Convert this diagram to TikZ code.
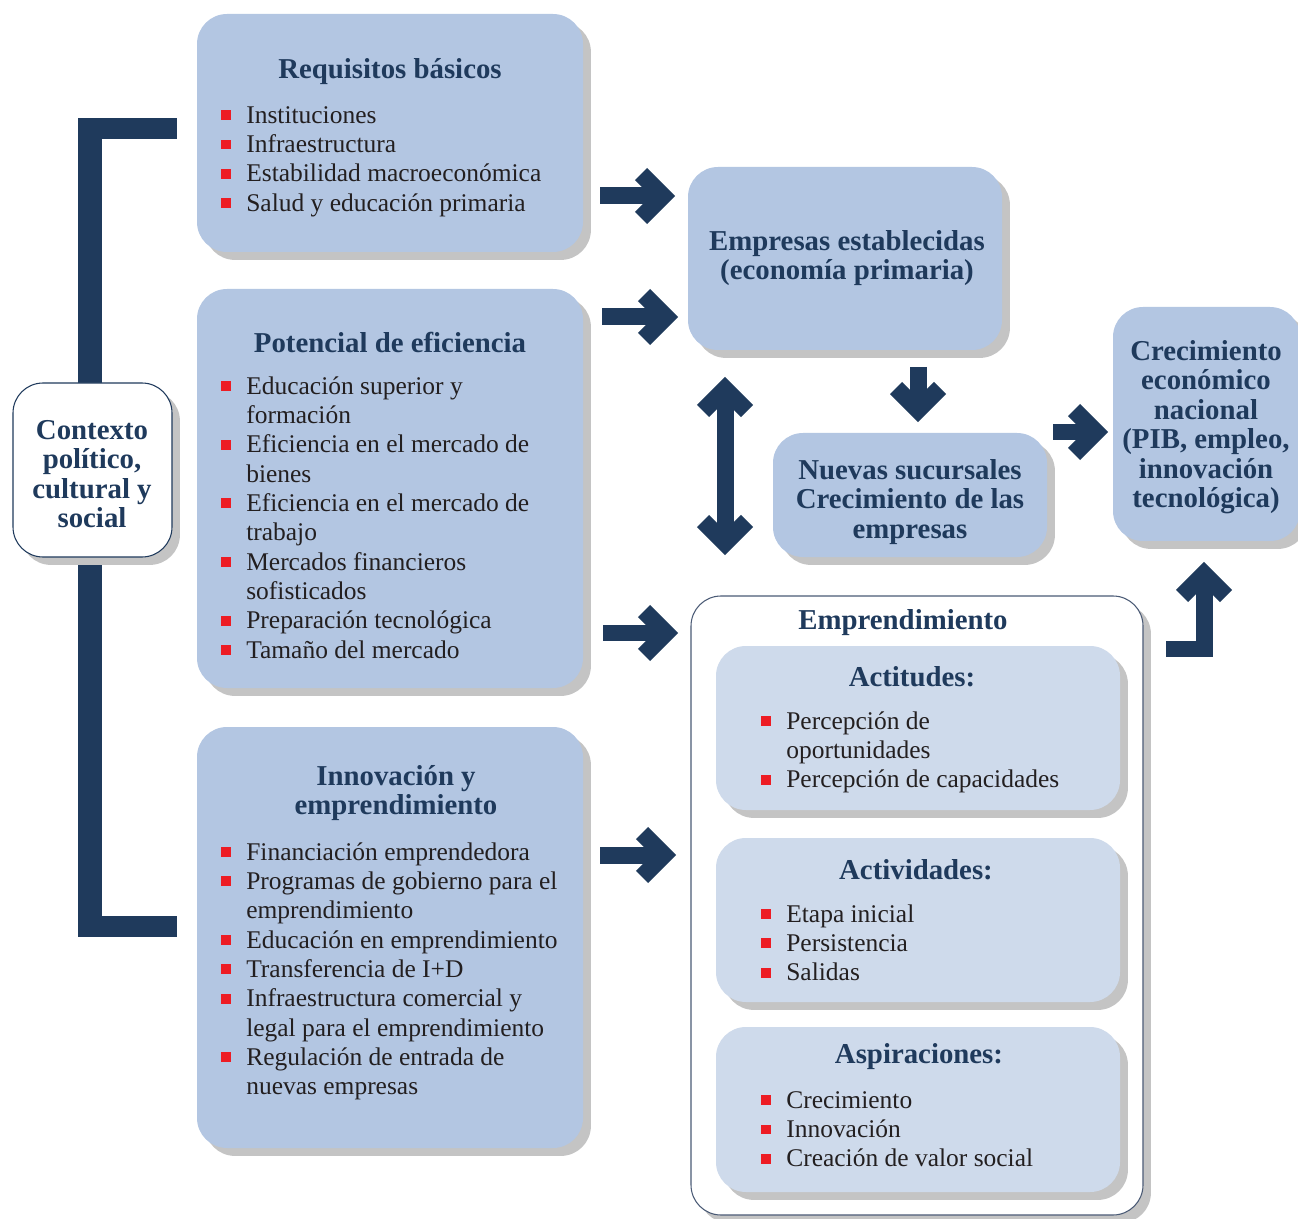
\documentclass[tikz,border=0pt]{standalone}
\usepackage{fontspec}
\setmainfont{Liberation Serif}
\usetikzlibrary{shadows,fit}

\definecolor{navy}{HTML}{1F3A5C}
\definecolor{boxblue}{HTML}{B3C6E2}
\definecolor{paleblue}{HTML}{CEDAEB}
\definecolor{bulletred}{HTML}{ED1C24}
\definecolor{ink}{HTML}{231F20}
\definecolor{shadowgray}{HTML}{C4C4C4}
\definecolor{rimgray}{HTML}{4A5A75}

\newcommand{\bodyfont}{\fontsize{14.5}{16.7}\selectfont}
\newcommand{\headfont}{\fontsize{16.4}{16.8}\selectfont\bfseries}
\newcommand{\bul}{\makebox[14.2pt][l]{\textcolor{bulletred}{\rule[1.8pt]{5.6pt}{5.6pt}}}}
\newcommand{\cnt}{\hspace*{14.2pt}}

\tikzset{
  panel/.style={rounded corners=0.6cm, fill=boxblue, inner sep=0pt,
    drop shadow={shadow xshift=4.5pt, shadow yshift=-4.5pt, fill=shadowgray, opacity=1}},
  subpanel/.style={panel, fill=paleblue},
  framebox/.style={panel, fill=white, draw=rimgray, line width=0.6pt},
  heading/.style={font=\headfont, text=navy, align=center, inner sep=0pt},
  items/.style={anchor=north west, font=\bodyfont, text=ink, align=left, inner sep=0pt},
  fatline/.style={draw=navy, line width=0.34cm, line cap=butt, line join=miter},
  chev/.pic={\draw[fatline] (-22,-22) -- (0,0) -- (-22,22);}
}

\begin{document}
\begin{tikzpicture}[x=0.02cm, y=-0.02cm]
  \useasboundingbox (0,0) rectangle (1298,1219);

  % bracket behind the context box
  \fill[navy] (78,118) rectangle (102,937);
  \fill[navy] (78,118) rectangle (177,139);
  \fill[navy] (78,916) rectangle (177,937);

  % left column
  \node[framebox, draw=navy, fit={(13,383) (172,557)}] (ctx) {};
  \node[heading] (ctxt) at (92,474) {Contexto\\político,\\cultural y\\social};

  \node[panel, fit={(197,14) (583,252)}] (req) {};
  \node[heading] (reqt) at (390,72) {Requisitos básicos};
  \node[items] (reql) at (221,106) {\bul Instituciones\\ \bul Infraestructura\\
    \bul Estabilidad macroeconómica\\ \bul Salud y educación primaria};

  \node[panel, fit={(197,289) (583,688)}] (pot) {};
  \node[heading] (pott) at (390,342) {Potencial de eficiencia};
  \node[items] (potl) at (221,376) {\bul Educación superior y\\ \cnt formación\\
    \bul Eficiencia en el mercado de\\ \cnt bienes\\
    \bul Eficiencia en el mercado de\\ \cnt trabajo\\
    \bul Mercados financieros\\ \cnt sofisticados\\
    \bul Preparación tecnológica\\ \bul Tamaño del mercado};

  \node[panel, fit={(197,727) (583,1148)}] (inn) {};
  \node[heading] (innt) at (396,793) {Innovación y\\emprendimiento};
  \node[items] (innl) at (221,842) {\bul Financiación emprendedora\\
    \bul Programas de gobierno para el\\ \cnt emprendimiento\\
    \bul Educación en emprendimiento\\ \bul Transferencia de I+D\\
    \bul Infraestructura comercial y\\ \cnt legal para el emprendimiento\\
    \bul Regulación de entrada de\\ \cnt nuevas empresas};

  % middle and right
  \node[panel, fit={(688,167) (1002,350)}] (est) {};
  \node[heading] (estt) at (847,258) {Empresas establecidas\\(economía primaria)};

  \node[panel, fit={(773,433) (1047,557)}] (nue) {};
  \node[heading] (nuet) at (910,502) {Nuevas sucursales\\Crecimiento de las\\empresas};

  \node[panel, fit={(1113,307) (1300,541)}] (cre) {};
  \node[heading] (cret) at (1206,427) {Crecimiento\\económico\\nacional\\(PIB, empleo,\\innovación\\tecnológica)};

  \node[framebox, fit={(691,596) (1143,1215)}] (emp) {};
  \node[heading] (empt) at (903,623) {Emprendimiento};

  \node[subpanel, fit={(716,646) (1120,810)}] (act) {};
  \node[heading] (actt) at (912,677) {Actitudes:};
  \node[items] (actl) at (761,711) {\bul Percepción de\\ \cnt oportunidades\\
    \bul Percepción de capacidades};

  \node[subpanel, fit={(716,838) (1120,1002)}] (acv) {};
  \node[heading] (acvt) at (916,870) {Actividades:};
  \node[items] (acvl) at (761,904) {\bul Etapa inicial\\ \bul Persistencia\\ \bul Salidas};

  \node[subpanel, fit={(716,1027) (1120,1192)}] (asp) {};
  \node[heading] (aspt) at (919,1057) {Aspiraciones:};
  \node[items] (aspl) at (761,1091) {\bul Crecimiento\\ \bul Innovación\\
    \bul Creación de valor social};

  % block arrows
  \draw[fatline] (600,196) -- (663,196) pic{chev};
  \draw[fatline] (602,317) -- (666,317) pic{chev};
  \draw[fatline] (603,633) -- (666,633) pic{chev};
  \draw[fatline] (600,855) -- (664,855) pic{chev};
  \draw[fatline] (918,367) -- (918,410) pic[rotate=-90]{chev};
  \draw[fatline] (725,389) pic[rotate=90]{chev} -- (725,543) pic[rotate=-90]{chev};
  \draw[fatline] (1053,432) -- (1096,432) pic{chev};
  \draw[fatline] (1166,649) -- (1204,649) -- (1204,574) pic[rotate=90]{chev};
\end{tikzpicture}
\end{document}
